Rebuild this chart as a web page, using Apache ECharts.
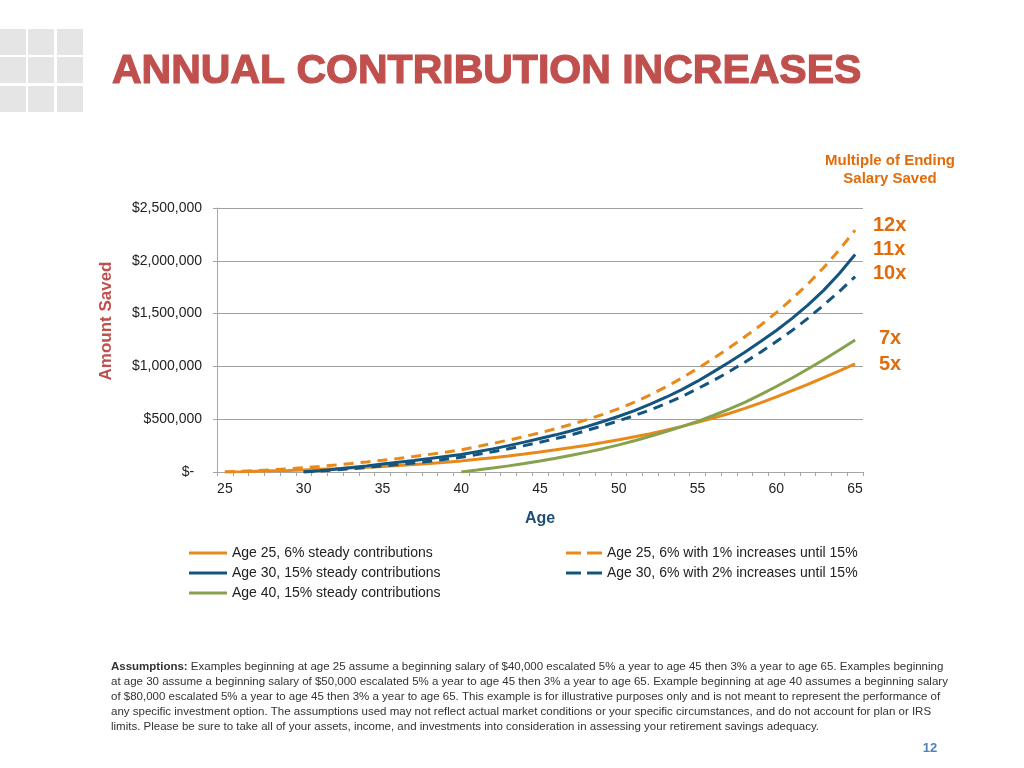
<!DOCTYPE html>
<html>
<head>
<meta charset="utf-8">
<script src="https://cdn.jsdelivr.net/npm/echarts@6/dist/echarts.min.js"></script>
<style>
html,body{margin:0;padding:0;background:#fff;}
#chart{width:1024px;height:768px;}
</style>
</head>
<body>
<div id="chart"></div>
<script>
// Categories (age)
const ages = ['25','26','27','28','29','30','31','32','33','34','35','36','37','38','39','40','41','42','43','44','45','46','47','48','49','50','51','52','53','54','55','56','57','58','59','60','61','62','63','64','65'];

// Series values (amount saved, in dollars), one per age 25..65
const age25Steady = [0,3000,7000,11000,15000,20000,25000,31000,37000,44000,52000,61000,71000,81000,93000,105000,120000,136000,152000,170000,190000,210000,231000,254000,279000,305000,333000,363000,396000,432000,470000,510000,554000,602000,655000,712000,770000,830000,893000,958000,1025000];
const age25Increase = [0,6000,13000,21000,30000,41000,53000,66000,80000,95000,111000,128000,147000,167000,188000,210000,240000,271000,302000,335000,371000,410000,452000,497000,546000,600000,662000,730000,806000,890000,980000,1075000,1175000,1280000,1390000,1510000,1640000,1780000,1935000,2105000,2290000];
const age30Steady = [null,null,null,null,null,0,13000,27000,42000,58000,75000,92000,109000,127000,146000,165000,191000,219000,250000,283000,318000,352000,390000,432000,478000,528000,582000,642000,708000,780000,860000,948000,1040000,1135000,1235000,1340000,1455000,1580000,1720000,1880000,2060000];
const age30Increase = [null,null,null,null,null,0,9000,19000,30000,43000,57000,71000,86000,102000,120000,140000,165000,192000,220000,250000,282000,316000,352000,395000,438000,485000,535000,588000,648000,715000,788000,866000,950000,1040000,1135000,1235000,1340000,1455000,1580000,1710000,1850000];
const age40Steady = [null,null,null,null,null,null,null,null,null,null,null,null,null,null,null,0,18000,38000,58000,80000,104000,130000,158000,188000,221000,257000,296000,338000,383000,430000,480000,535000,595000,660000,732000,810000,890000,975000,1063000,1155000,1250000];

// Series names
const nameA25S = 'Age 25, 6% steady contributions';
const nameA30S = 'Age 30, 15% steady contributions';
const nameA40S = 'Age 40, 15% steady contributions';
const nameA25I = 'Age 25, 6% with 1% increases until 15%';
const nameA30I = 'Age 30, 6% with 2% increases until 15%';

// Y ticks
const yMin = 0, yMax = 2500000, yStep = 500000;

// Multiples labels
const multiples = ['12x','11x','10x','7x','5x'];

const assumptionLines = [
  '{b|Assumptions:} Examples beginning at age 25 assume a beginning salary of $40,000 escalated 5% a year to age 45 then 3% a year to age 65. Examples beginning',
  'at age 30 assume a beginning salary of $50,000 escalated 5% a year to age 45 then 3% a year to age 65. Example beginning at age 40 assumes a beginning salary',
  'of $80,000 escalated 5% a year to age 45 then 3% a year to age 65. This example is for illustrative purposes only and is not meant to represent the performance of',
  'any specific investment option. The assumptions used may not reflect actual market conditions or your specific circumstances, and do not account for plan or IRS',
  'limits. Please be sure to take all of your assets, income, and investments into consideration in assessing your retirement savings adequacy.'
];

const ORANGE = '#E8891A';
const BLUE = '#14557F';
const GREEN = '#87A24E';
const LABEL_ORANGE = '#E36C0A';
const FONT = '"Liberation Sans", Arial, sans-serif';
const SOLID_ICON = 'path://M0,0H38V3H0Z';
const DASH_ICON = 'path://M0,0H15V3H0Z M21,0H36V3H21Z';

const chart = echarts.init(document.getElementById('chart'), null, {renderer: 'canvas'});

function lineSeries(name, data, color, dashed, z) {
  return {
    name: name, type: 'line', data: data, symbol: 'none', showSymbol: false,
    z: z, animation: false,
    lineStyle: {color: color, width: 3, type: dashed ? [10, 7] : 'solid', cap: 'butt'},
    itemStyle: {color: color}
  };
}

const graphics = [];
// decorative grid of squares (top-left)
const sqX = [0, 28, 57], sqY = [29, 57, 86];
sqY.forEach(y => sqX.forEach(x => graphics.push({type:'rect', shape:{x:x, y:y, width:26, height:26}, style:{fill:'#e5e5e5'}, silent:true})));
graphics.push({type:'text', x:112, y:72, style:{text:'ANNUAL CONTRIBUTION INCREASES', font:'bold 41px ' + FONT, fill:'#C0504D', stroke:'#C0504D', lineWidth:1.2, textVerticalAlign:'middle'}});
graphics.push({type:'text', x:890, y:161, style:{text:'Multiple of Ending', font:'bold 15px ' + FONT, fill:LABEL_ORANGE, textAlign:'center', textVerticalAlign:'middle'}});
graphics.push({type:'text', x:890, y:179, style:{text:'Salary Saved', font:'bold 15px ' + FONT, fill:LABEL_ORANGE, textAlign:'center', textVerticalAlign:'middle'}});
const mulPos = [[873,225],[873,249],[873,273],[879,338],[879,364]];
multiples.forEach((m,i) => graphics.push({type:'text', x:mulPos[i][0], y:mulPos[i][1], style:{text:m, font:'bold 20px ' + FONT, fill:LABEL_ORANGE, textVerticalAlign:'middle'}}));
graphics.push({type:'text', x:106, y:321, rotation:Math.PI/2, style:{text:'Amount Saved', font:'bold 17px ' + FONT, fill:'#C0504D', textAlign:'center', textVerticalAlign:'middle'}});
assumptionLines.forEach((t,i) => graphics.push({type:'text', x:111, y:667 + i*15, style:{text:t, font:'11.5px ' + FONT, fill:'#333333', textVerticalAlign:'middle', rich:{b:{fontWeight:'bold', fontSize:11.5, fontFamily:FONT, fill:'#333333'}}}}));
graphics.push({type:'text', x:930, y:748, style:{text:'12', font:'bold 13px ' + FONT, fill:'#4F81BD', textAlign:'center', textVerticalAlign:'middle'}});

const option = {
  backgroundColor: '#ffffff',
  animation: false,
  textStyle: {fontFamily: FONT},
  grid: {left: 217, right: 161, top: 208, bottom: 296, containLabel: false},
  legend: [
    {
      orient: 'vertical', left: 189, top: 545, padding: 0, itemWidth: 38, itemHeight: 3, itemGap: 4,
      data: [{name: nameA25S, icon: SOLID_ICON}, {name: nameA30S, icon: SOLID_ICON}, {name: nameA40S, icon: SOLID_ICON}],
      textStyle: {fontSize: 14, color: '#222', fontFamily: FONT, lineHeight: 16}
    },
    {
      orient: 'vertical', left: 566, top: 545, padding: 0, itemWidth: 36, itemHeight: 3, itemGap: 4,
      data: [{name: nameA25I, icon: DASH_ICON}, {name: nameA30I, icon: DASH_ICON}],
      textStyle: {fontSize: 14, color: '#222', fontFamily: FONT, lineHeight: 16}
    }
  ],
  xAxis: {
    type: 'category', data: ages, boundaryGap: true,
    name: 'Age', nameLocation: 'middle', nameGap: 39,
    nameTextStyle: {fontSize: 16, fontWeight: 'bold', color: '#1F4E79', fontFamily: FONT},
    axisLine: {lineStyle: {color: '#A6A6A6', width: 1}},
    axisTick: {show: true, interval: 0, length: 4, lineStyle: {color: '#A6A6A6'}},
    axisLabel: {interval: 4, margin: 10, fontSize: 14, color: '#222', fontFamily: FONT},
    splitLine: {show: false}
  },
  yAxis: {
    type: 'value', min: yMin, max: yMax, interval: yStep,
    axisLine: {show: true, lineStyle: {color: '#A6A6A6', width: 1}},
    axisTick: {show: true, length: 4, lineStyle: {color: '#A6A6A6'}},
    axisLabel: {margin: 15, fontSize: 14, color: '#222', fontFamily: FONT,
      formatter: v => v === 0 ? '$-  ' : '$' + v.toLocaleString('en-US')},
    splitLine: {show: true, lineStyle: {color: '#A0A0A0', width: 1}}
  },
  series: [
    lineSeries(nameA25S, age25Steady, ORANGE, false, 3),
    lineSeries(nameA30S, age30Steady, BLUE, false, 3),
    lineSeries(nameA40S, age40Steady, GREEN, false, 4),
    lineSeries(nameA25I, age25Increase, ORANGE, true, 3),
    lineSeries(nameA30I, age30Increase, BLUE, true, 3)
  ],
  graphic: graphics
};
chart.setOption(option);
</script>
</body>
</html>
